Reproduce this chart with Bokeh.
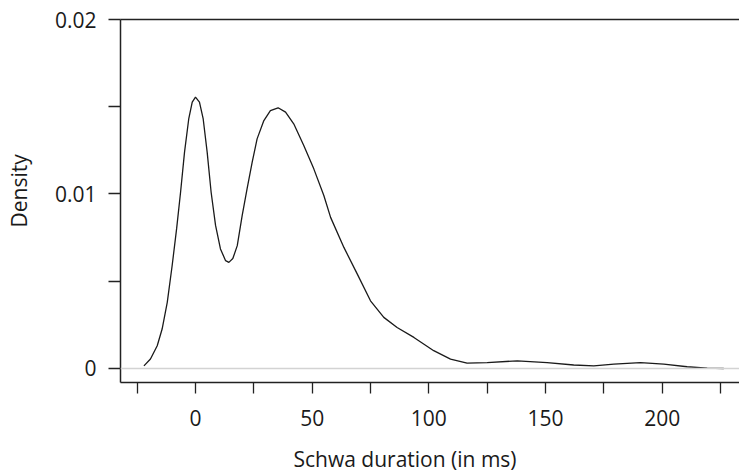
from bokeh.plotting import figure
from bokeh.models import (Range1d, FixedTicker, LinearAxis, Span, Title,
                          CustomJSTickFormatter)
from bokeh.embed import file_html
from bokeh.resources import INLINE

# Density curve (duration in ms, density)
duration = [-22.1, -19.3, -16.4, -14.3, -12.1, -10.0, -8.1, -6.4, -4.7, -2.9,
            -1.4, 0.0, 1.7, 3.3, 5.0, 6.7, 8.6, 10.7, 12.9, 14.3, 16.0, 17.9,
            20.0, 22.1, 24.3, 26.4, 29.3, 32.1, 35.4, 38.6, 42.1, 46.4, 50.7,
            55.0, 57.9, 63.6, 69.3, 75.0, 80.7, 86.4, 93.6, 102.1, 109.3,
            116.4, 125.0, 137.9, 150.7, 162.1, 170.7, 179.3, 190.7, 200.7,
            210.7, 219.3, 226.4]
density = [0.00015, 0.00054, 0.0013, 0.00226, 0.00379, 0.0059, 0.0080, 0.0101,
           0.0124, 0.0143, 0.01526, 0.01555, 0.01526, 0.0143, 0.0124, 0.0101,
           0.0082, 0.00685, 0.00618, 0.00608, 0.0063, 0.00704, 0.00876,
           0.01029, 0.01182, 0.01316, 0.01421, 0.01478, 0.01494, 0.01469,
           0.01402, 0.01278, 0.01144, 0.00991, 0.00866, 0.00694, 0.00542,
           0.00388, 0.00293, 0.00235, 0.00178, 0.00102, 0.00054, 0.00031,
           0.00034, 0.00044, 0.00034, 0.0002, 0.00015, 0.00025, 0.00034,
           0.00025, 0.0001, 0.00002, 0.0]

x_major = [0, 50, 100, 150, 200]
x_minor = [-25, 25, 75, 125, 175, 225]
y_major = [0, 0.01, 0.02]
y_minor = [0.005, 0.015]

x_title = "Schwa duration (in ms)"
y_title = "Density"

FONT = "Open Sans"
FS = "21px"
AX = "#222222"
TXT = "#1a1a1a"

p = figure(width=739, height=473, output_backend="svg", toolbar_location=None,
           x_range=Range1d(-32.14, 233.14), y_range=Range1d(-0.000803, 0.02),
           x_axis_location=None, y_axis_location=None,
           min_border_left=120, min_border_right=0, min_border_top=19,
           min_border_bottom=91)
p.outline_line_color = None
p.grid.visible = False
p.background_fill_color = "white"
p.border_fill_color = "white"


def spacer(size, tick):
    """Blank (white) axis used only to reserve room before a title."""
    s = LinearAxis(ticker=FixedTicker(ticks=[tick]),
                   formatter=CustomJSTickFormatter(code="return '';"))
    s.axis_line_color = "white"
    s.major_tick_out = size
    s.major_tick_in = 0
    s.minor_tick_out = 0
    s.minor_tick_in = 0
    s.major_tick_line_color = "white"
    s.minor_tick_line_color = None
    s.major_label_standoff = 0
    s.major_label_text_font_size = "1px"
    s.major_label_text_color = "white"
    return s


# zero line
p.add_layout(Span(location=0, dimension="width", line_color="#d3d3d3",
                  line_width=1.5))

p.line(duration, density, line_color=TXT, line_width=1.3)

# bottom axis
xa = LinearAxis(ticker=FixedTicker(ticks=x_major, minor_ticks=x_minor))
xa.axis_line_color = AX
xa.axis_line_width = 1.5
xa.major_tick_in = 0
xa.major_tick_out = 11
xa.minor_tick_in = 0
xa.minor_tick_out = 11
xa.major_tick_line_color = AX
xa.minor_tick_line_color = AX
xa.major_tick_line_width = 1.3
xa.minor_tick_line_width = 1.3
xa.major_label_standoff = 16
xa.major_label_text_font = FONT
xa.major_label_text_font_size = FS
xa.major_label_text_color = TXT
p.add_layout(xa, "below")
p.add_layout(spacer(14, x_minor[-1]), "below")

# left axis
ya = LinearAxis(ticker=FixedTicker(ticks=y_major, minor_ticks=y_minor),
                formatter=CustomJSTickFormatter(
                    code="return tick === 0 ? '0' : tick.toFixed(2);"))
ya.axis_line_color = AX
ya.axis_line_width = 1.5
ya.major_tick_in = 0
ya.major_tick_out = 12
ya.minor_tick_in = 0
ya.minor_tick_out = 12
ya.major_tick_line_color = AX
ya.minor_tick_line_color = AX
ya.major_tick_line_width = 1.3
ya.minor_tick_line_width = 1.3
ya.major_label_standoff = 12
ya.major_label_orientation = "horizontal"
ya.major_label_text_font = FONT
ya.major_label_text_font_size = FS
ya.major_label_text_color = TXT
p.add_layout(ya, "left")
p.add_layout(spacer(19, y_minor[0]), "left")

# top border line
ta = LinearAxis(ticker=FixedTicker(ticks=[]))
ta.axis_line_color = AX
ta.axis_line_width = 1.5
ta.major_tick_out = 0
ta.major_tick_in = 0
ta.minor_tick_out = 0
ta.minor_tick_in = 0
ta.major_label_standoff = 0
ta.major_label_text_font_size = "0px"
p.add_layout(ta, "above")

# axis titles (positioned like the reference, not centred on the frame)
p.add_layout(Title(text=x_title, align="left", offset=173, text_font=FONT,
                   text_font_size=FS, text_font_style="normal",
                   text_color=TXT, standoff=0), "below")
p.add_layout(Title(text=y_title, align="left", offset=155, text_font=FONT,
                   text_font_size=FS, text_font_style="normal",
                   text_color=TXT, standoff=0), "left")

open("out.html", "w").write(file_html(p, INLINE))
